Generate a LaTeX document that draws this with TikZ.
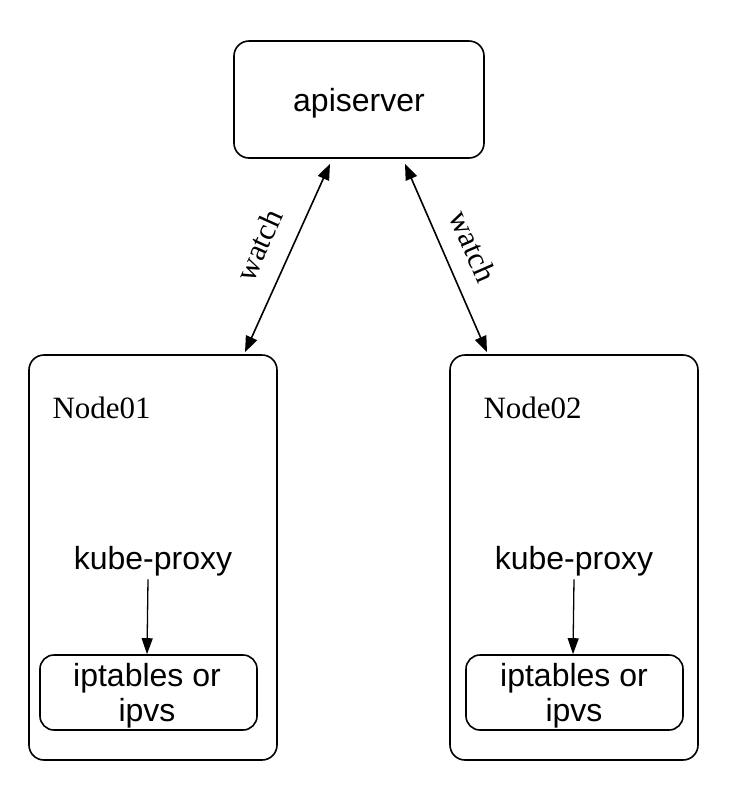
\documentclass[tikz,border=0pt]{standalone}
\usepackage{fontspec}
\setmainfont{Liberation Sans}
\newfontfamily\serifface{Liberation Serif}
\usetikzlibrary{arrows.meta}
\begin{document}
\begin{tikzpicture}[x=1pt,y=-1pt,
  box/.style={draw,line width=1.6pt,rounded corners=15pt,inner sep=0pt},
  sanslabel/.style={font=\fontsize{32}{35}\selectfont,align=center},
  seriflabel/.style={font=\serifface\fontsize{31}{34}\selectfont},
  conn/.style={line width=1.6pt,{Triangle[length=16pt,width=12pt]}-{Triangle[length=16pt,width=12pt]}},
  inner/.style={line width=1.3pt,-{Triangle[length=16pt,width=11pt]}}]
\useasboundingbox (0,0) rectangle (740,796);
\node[box,minimum width=250pt,minimum height=117pt] (api) at (359,99.5) {};
\node[sanslabel] (apit) at (359,103) {apiserver};
\node[box,minimum width=248pt,minimum height=405pt] (n1) at (153,557.5) {};
\node[box,minimum width=248pt,minimum height=405pt] (n2) at (574,557.5) {};
\node[box,minimum width=217pt,minimum height=75pt,rounded corners=14pt] (ip1) at (148.5,692.5) {};
\node[box,minimum width=217pt,minimum height=75pt,rounded corners=14pt] (ip2) at (574.5,692.5) {};
\node[sanslabel] (ipt1) at (147,696) {iptables or\\ipvs};
\node[sanslabel] (ipt2) at (574,696) {iptables or\\ipvs};
\node[seriflabel,anchor=base west] (t1) at (49,418) {Node01};
\node[seriflabel,anchor=base west] (t2) at (480,418) {Node02};
\node[sanslabel] (kp1) at (153,561) {kube-proxy};
\node[sanslabel] (kp2) at (574,561) {kube-proxy};
\draw[inner] ([xshift=-5pt]kp1.south) -- ([xshift=-1.5pt]ip1.north);
\draw[inner] (kp2.south) -- ([xshift=-1.5pt]ip2.north);
\draw[conn] ([xshift=92pt,yshift=2pt]n1.north) -- node[pos=0.5,sloped,above=20pt,seriflabel,inner sep=0pt] (w1) {watch} ([xshift=-29pt,yshift=-5pt]api.south);
\draw[conn] ([xshift=46pt,yshift=-5pt]api.south) -- node[pos=0.5,sloped,above=18pt,seriflabel,inner sep=0pt] (w2) {watch} ([xshift=-87pt,yshift=2pt]n2.north);
\end{tikzpicture}
\end{document}
